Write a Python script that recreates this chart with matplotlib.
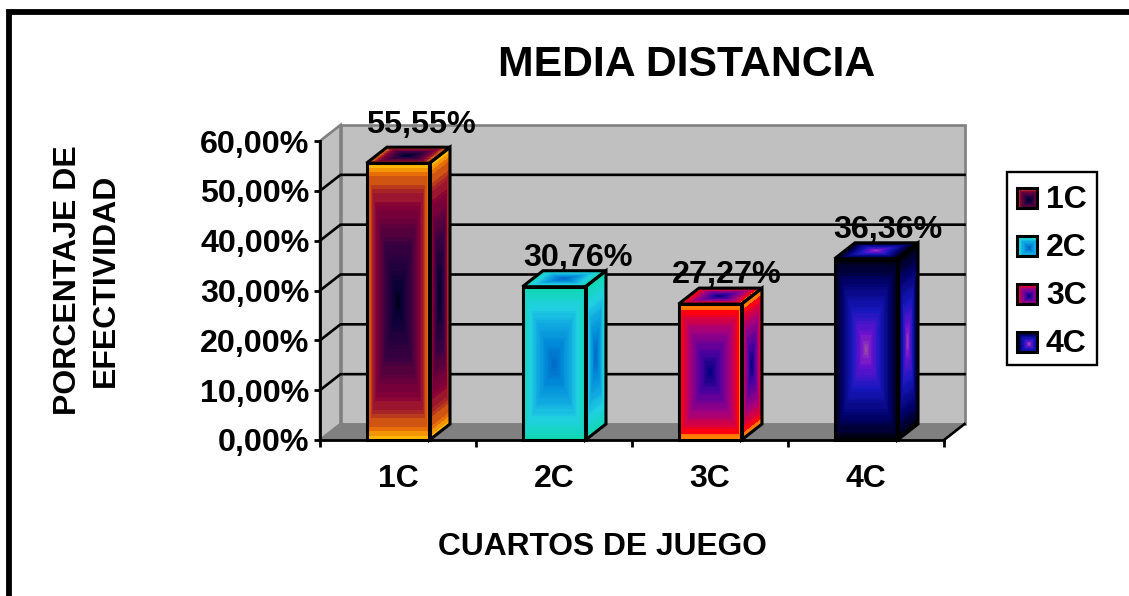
import numpy as np
import matplotlib
matplotlib.use("Agg")
import matplotlib.pyplot as plt
from matplotlib.colors import LinearSegmentedColormap
from matplotlib.patches import Polygon, Rectangle

plt.rcParams["font.family"] = ["Liberation Sans", "DejaVu Sans"]
plt.rcParams["font.weight"] = "bold"

# Data
categories = ["1C", "2C", "3C", "4C"]
values = [55.55, 30.76, 27.27, 36.36]
value_labels = ["55,55%", "30,76%", "27,27%", "36,36%"]
y_ticks = [0, 10, 20, 30, 40, 50, 60]
y_tick_labels = ["0,00%", "10,00%", "20,00%", "30,00%", "40,00%", "50,00%", "60,00%"]
title = "MEDIA DISTANCIA"
x_title = "CUARTOS DE JUEGO"
y_title = "PORCENTAJE DE\nEFECTIVIDAD"

# Concentric fills: position 0 is the centre of a face, 1 is its outer edge
fills = {
    "1C": [(0, "#000018"), (0.12, "#0c0038"), (0.4, "#380040"), (0.7, "#880038"),
           (0.82, "#b03020"), (0.92, "#e87008"), (1, "#ffb800")],
    "2C": [(0, "#0068c8"), (0.25, "#0088d8"), (0.5, "#10a8e0"), (0.72, "#20d0e0"), (1, "#10d8b0")],
    "3C": [(0, "#000080"), (0.3, "#5000a0"), (0.6, "#a00080"), (0.86, "#f00020"),
           (0.88, "#ff0010"), (0.89, "#ff7000"), (1, "#ff8800")],
    "4C": [(0, "#9848a8"), (0.16, "#7010d0"), (0.42, "#1818c0"), (0.75, "#000068"), (1, "#000008")],
}

W, H = 1129, 596
fig = plt.figure(figsize=(W / 100, H / 100), dpi=100, facecolor="white")


def pixel_box(left, top, right, bottom):
    return [left / W, 1 - bottom / H, (right - left) / W, (bottom - top) / H]


# Overlay in pixel units for the outer frame and the legend
page = fig.add_axes([0, 0, 1, 1], zorder=0)
page.set_xlim(0, W)
page.set_ylim(H, 0)
page.axis("off")

ax = fig.add_axes(pixel_box(320, 141, 944, 440), zorder=1)
ax.set_xlim(0, 4)
ax.set_ylim(0, 60)
ax.patch.set_visible(False)
for side in ("top", "right"):
    ax.spines[side].set_visible(False)
for side in ("left", "bottom"):
    ax.spines[side].set_linewidth(2.0)
    ax.spines[side].set_zorder(20)

# Oblique depth of the 3D projection, expressed in data units
depth_x = 20.5 / 156
depth_y = 16 * 60 / 299
bar_width = 63 / 156
edge_lw = 2.2


def shaded_face(axes, origin, e1, e2, stops, nu=64, nv=64, bands=24, centre=0.0, zorder=5):
    cmap = LinearSegmentedColormap.from_list("face", stops)
    u = np.linspace(-1, 1, nu + 1)
    v = np.linspace(-1, 1, nv + 1)
    uu, vv = np.meshgrid(u, v)
    X = origin[0] + (uu + 1) / 2 * e1[0] + (vv + 1) / 2 * e2[0]
    Y = origin[1] + (uu + 1) / 2 * e1[1] + (vv + 1) / 2 * e2[1]
    uc = (u[:-1] + u[1:]) / 2 - centre
    vc = (v[:-1] + v[1:]) / 2 - centre
    t = np.maximum(np.abs(uc)[None, :], np.abs(vc)[:, None]) / (1 + abs(centre))
    t = np.round(t * bands) / bands
    mesh = axes.pcolormesh(X, Y, t, cmap=cmap, vmin=0, vmax=1, shading="flat",
                           antialiased=False, linewidth=0, zorder=zorder)
    mesh.set_clip_on(False)
    return mesh


def poly(points, **kw):
    p = Polygon(points, closed=True, clip_on=False, **kw)
    ax.add_patch(p)
    return p


# Walls and floor of the chart box
poly([(depth_x, depth_y), (4 + depth_x, depth_y), (4 + depth_x, 60 + depth_y), (depth_x, 60 + depth_y)],
     facecolor="#c0c0c0", edgecolor="#808080", linewidth=1.9, zorder=1)
poly([(0, 0), (depth_x, depth_y), (depth_x, 60 + depth_y), (0, 60)],
     facecolor="#c0c0c0", edgecolor="#808080", linewidth=1.9, zorder=1)
poly([(0, 0), (4, 0), (4 + depth_x, depth_y), (depth_x, depth_y)],
     facecolor="#808080", edgecolor="#808080", linewidth=1, zorder=2)
ax.plot([4, 4 + depth_x], [0, depth_y], color="black", lw=1.9, clip_on=False, zorder=3)

# Gridlines run along the side wall and across the back wall
for tick in y_ticks[1:-1]:
    ax.plot([0, depth_x, 4 + depth_x], [tick, tick + depth_y, tick + depth_y],
            color="black", lw=1.9, clip_on=False, zorder=3)

# Bars: front, side and top faces
for i, (name, val) in enumerate(zip(categories, values)):
    x0 = i + 0.5 - bar_width / 2
    x1 = x0 + bar_width
    stops = fills[name]
    shaded_face(ax, (x0, 0), (bar_width, 0), (0, val), stops, zorder=6)
    shaded_face(ax, (x1, 0), (depth_x, depth_y), (0, val), stops, nu=32, zorder=6)
    shaded_face(ax, (x0, val), (bar_width, 0), (depth_x, depth_y), stops, nv=24, zorder=6)
    outline = dict(fill=False, edgecolor="black", linewidth=edge_lw, joinstyle="miter", zorder=7)
    poly([(x0, 0), (x1, 0), (x1, val), (x0, val)], **outline)
    poly([(x1, 0), (x1 + depth_x, depth_y), (x1 + depth_x, val + depth_y), (x1, val)], **outline)
    poly([(x0, val), (x1, val), (x1 + depth_x, val + depth_y), (x0 + depth_x, val + depth_y)], **outline)

# Value labels sit above each bar, the tallest one a little higher
label_lift = [38, 29, 29, 29]
label_shift = [23, 24, 17, 22]
for i, (val, text, lift, shift) in enumerate(zip(values, value_labels, label_lift, label_shift)):
    ax.annotate(text, xy=(i + 0.5, val), xytext=(shift * 0.72, lift * 0.72),
                textcoords="offset points", ha="center", va="center",
                fontsize=23.3, fontweight="bold", color="black",
                annotation_clip=False, zorder=10)

# Axis ticks and labels
ax.set_yticks(y_ticks)
ax.set_yticklabels(y_tick_labels, fontsize=23.2, fontweight="bold")
ax.tick_params(axis="y", length=4.5, width=2.0, pad=3, color="black")
ax.set_xticks(range(5))
ax.set_xticklabels([])
ax.set_xticks([i + 0.5 for i in range(4)], labels=categories, minor=True)
ax.tick_params(axis="x", which="major", length=5, width=2.0, direction="out")
ax.tick_params(axis="x", which="minor", length=0, labelsize=23, pad=17.5)

# Titles
page.text(687, 65, title, fontsize=30.8, fontweight="bold", ha="center", va="center")
page.text(602, 547, x_title, fontsize=22.9, fontweight="bold", ha="center", va="center")
page.text(87, 280, y_title, fontsize=23, fontweight="bold", ha="center", va="center",
          rotation=90, multialignment="center", linespacing=1.32)

# Outer frame, open at the right and bottom edges of the page
page.plot([9, 9, W + 5], [H + 5, 12, 12], color="black", lw=4.2, solid_joinstyle="miter", clip_on=False)

# Legend
page.add_patch(Rectangle((1007, 172), 90, 193, facecolor="white", edgecolor="black", linewidth=1.7, zorder=2))
for name, yc in zip(categories, [198, 246, 294, 342]):
    shaded_face(page, (1017, yc - 10), (20, 0), (0, 20), fills[name], nu=20, nv=20, bands=10, centre=0.2, zorder=3)
    page.add_patch(Rectangle((1017, yc - 10), 20, 20, fill=False, edgecolor="black", linewidth=2.2, zorder=4))
    page.text(1046, yc + 2, name, fontsize=23, fontweight="bold", ha="left", va="center", zorder=4)

fig.savefig("out.png", dpi=100, facecolor="white")
